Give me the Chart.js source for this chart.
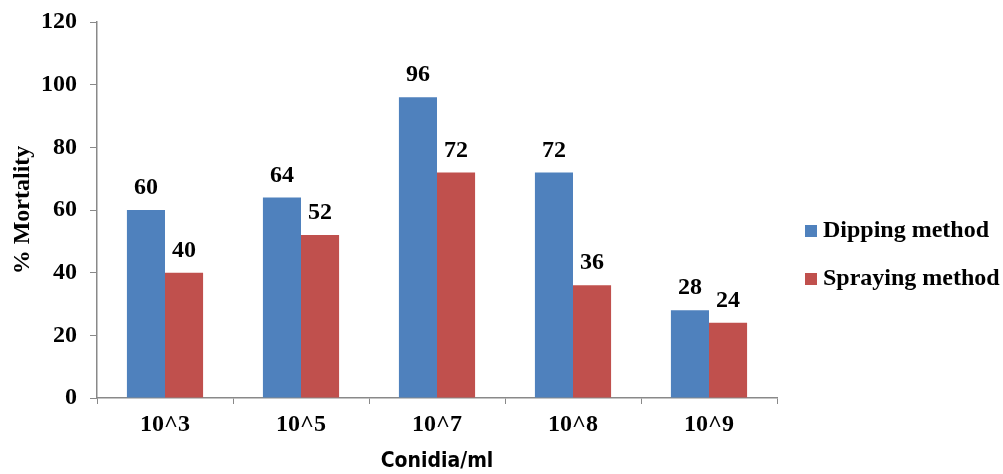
<!DOCTYPE html>
<html lang="en">
<head>
    <meta charset="UTF-8">
    <title>% Mortality by conidia concentration</title>
    <script src="https://cdn.jsdelivr.net/npm/chart.js"></script>
    <style>
        html, body {
            margin: 0;
            padding: 0;
            background: #ffffff;
        }
        .chart-container {
            position: relative;
            width: 1003px;
            height: 474px;
        }
    </style>
</head>
<body>
    <div class="chart-container">
        <canvas id="mortalityChart"></canvas>
    </div>

    <script>
        const categories = ['10^3', '10^5', '10^7', '10^8', '10^9'];
        const dippingValues = [60, 64, 96, 72, 28];
        const sprayingValues = [40, 52, 72, 36, 24];
        const seriesNames = ['Dipping method', 'Spraying method'];

        const colors = {
            blue: '#4F81BD',
            red: '#C0504D',
            axis: '#898989'
        };

        const serifBold = { family: "'Liberation Serif', 'Times New Roman', serif", size: 24, weight: 'bold' };

        // value labels above each bar
        const valueLabels = {
            id: 'valueLabels',
            afterDatasetsDraw(chart) {
                const ctx = chart.ctx;
                ctx.save();
                ctx.font = 'bold 24px "Liberation Serif", serif';
                ctx.fillStyle = '#000';
                ctx.textAlign = 'center';
                ctx.textBaseline = 'middle';
                chart.data.datasets.forEach((ds, i) => {
                    chart.getDatasetMeta(i).data.forEach((bar, j) => {
                        ctx.fillText(ds.data[j], bar.x, bar.y - 22);
                    });
                });
                ctx.restore();
            }
        };

        // legend sitting right of the plot, like the original
        const sideLegend = {
            id: 'sideLegend',
            afterDraw(chart) {
                const ctx = chart.ctx;
                ctx.save();
                ctx.font = 'bold 24px "Liberation Serif", serif';
                ctx.textBaseline = 'middle';
                ctx.textAlign = 'left';
                chart.data.datasets.forEach((ds, i) => {
                    const y = 231 + i * 48;
                    ctx.fillStyle = ds.backgroundColor;
                    ctx.fillRect(805, y - 6, 12, 12);
                    ctx.fillStyle = '#000';
                    ctx.fillText(ds.label, 823, y);
                });
                ctx.restore();
            }
        };

        new Chart(document.getElementById('mortalityChart'), {
            type: 'bar',
            data: {
                labels: categories,
                datasets: [
                    {
                        label: seriesNames[0],
                        data: dippingValues,
                        backgroundColor: colors.blue,
                        categoryPercentage: 0.56,
                        barPercentage: 1.0
                    },
                    {
                        label: seriesNames[1],
                        data: sprayingValues,
                        backgroundColor: colors.red,
                        categoryPercentage: 0.56,
                        barPercentage: 1.0
                    }
                ]
            },
            options: {
                responsive: true,
                maintainAspectRatio: false,
                animation: false,
                layout: {
                    padding: { left: 0, top: 22, right: 226, bottom: 0 }
                },
                plugins: {
                    legend: { display: false },
                    tooltip: { enabled: false }
                },
                scales: {
                    x: {
                        afterFit(scale) {
                            scale.height = 76;
                            scale.paddingLeft = 0;
                            scale.paddingRight = 0;
                        },
                        grid: {
                            offset: true,
                            drawOnChartArea: false,
                            color: colors.axis,
                            tickLength: 6
                        },
                        border: { color: colors.axis, width: 1.5 },
                        ticks: {
                            color: '#000',
                            font: serifBold,
                            padding: 6
                        },
                        title: {
                            display: true,
                            text: 'Conidia/ml',
                            color: '#000',
                            font: { family: "'Liberation Sans Narrow', 'DejaVu Sans Condensed', sans-serif", size: 21, weight: 'bold' },
                            padding: { top: 0, bottom: 0 }
                        }
                    },
                    y: {
                        min: 0,
                        max: 120,
                        afterFit(scale) {
                            scale.width = 97;
                            scale.paddingTop = 0;
                            scale.paddingBottom = 0;
                        },
                        grid: {
                            drawOnChartArea: false,
                            color: colors.axis,
                            tickLength: 7
                        },
                        border: { color: colors.axis, width: 1.5 },
                        ticks: {
                            stepSize: 20,
                            color: '#000',
                            font: serifBold,
                            padding: 13
                        },
                        title: {
                            display: true,
                            text: '% Mortality',
                            color: '#000',
                            font: serifBold,
                            padding: { top: 8, bottom: 0 }
                        }
                    }
                }
            },
            plugins: [valueLabels, sideLegend]
        });
    </script>
</body>
</html>
